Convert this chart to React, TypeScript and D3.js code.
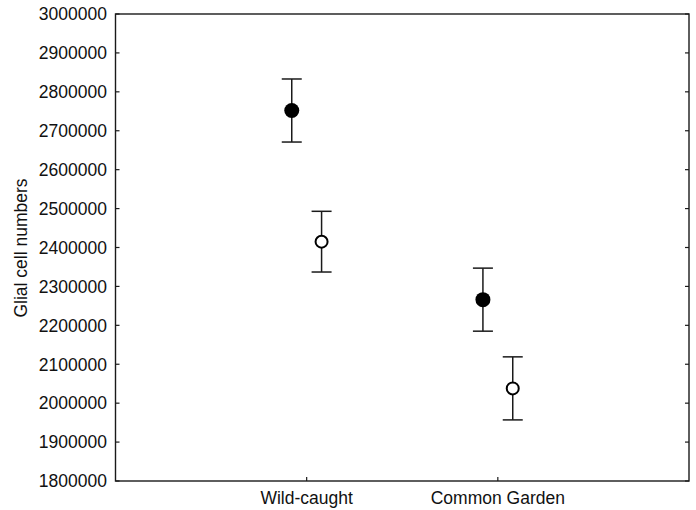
import React from "react";
import * as d3 from "d3";

const categories = ["Wild-caught", "Common Garden"];
const filledMeans = [2752000, 2266000];
const filledErr = [81000, 81000];
const openMeans = [2415000, 2038000];
const openErr = [78000, 81000];
const yTicks = [1800000, 1900000, 2000000, 2100000, 2200000, 2300000, 2400000, 2500000, 2600000, 2700000, 2800000, 2900000, 3000000];

const W = 696, H = 510;
const L = 115.5, R = 689, T = 14, B = 481;
const FONT = "Liberation Sans, Arial, sans-serif";

export default function App() {
  const x = d3.scaleLinear().domain([0, 3]).range([L, R]);
  const y = d3.scaleLinear().domain([1800000, 3000000]).range([B, T]);
  const off = 0.078;
  const cap = 10;
  const col = "#1a1a1a";

  const errBar = (cx: number, m: number, e: number, key: string) => (
    <g key={key} stroke={col} strokeWidth={1.5}>
      <line x1={cx} x2={cx} y1={y(m + e)} y2={y(m - e)} />
      <line x1={cx - cap} x2={cx + cap} y1={y(m + e)} y2={y(m + e)} />
      <line x1={cx - cap} x2={cx + cap} y1={y(m - e)} y2={y(m - e)} />
    </g>
  );

  return (
    <svg width={W} height={H} style={{ position: "absolute", left: 0, top: 0, background: "#fff" }}>
      <rect x={0} y={0} width={W} height={H} fill="#fff" />
      {yTicks.map((t) => (
        <g key={t}>
          <line x1={L} x2={L + 4} y1={y(t)} y2={y(t)} stroke={col} strokeWidth={1.2} />
          <line x1={R} x2={R - 4} y1={y(t)} y2={y(t)} stroke={col} strokeWidth={1.2} />
          <text x={L - 8.5} y={y(t)} dy="0.36em" textAnchor="end" fontFamily={FONT} fontSize={17.5} fill="#111">
            {t}
          </text>
        </g>
      ))}
      {categories.map((c, i) => (
        <g key={c}>
          <line x1={x(i + 1)} x2={x(i + 1)} y1={B} y2={B - 4} stroke={col} strokeWidth={1.2} />
          <text x={x(i + 1)} y={504} textAnchor="middle" fontFamily={FONT} fontSize={17.5} fill="#111">
            {c}
          </text>
        </g>
      ))}
      <rect x={L} y={T} width={R - L} height={B - T} fill="none" stroke={col} strokeWidth={1.4} />
      <text
        transform={`translate(27,248) rotate(-90)`}
        textAnchor="middle"
        fontFamily={FONT}
        fontSize={17.5}
        fill="#111"
      >
        Glial cell numbers
      </text>
      {categories.map((c, i) => {
        const cx = x(i + 1 - off);
        return (
          <g key={"f" + c}>
            {errBar(cx, filledMeans[i], filledErr[i], "fe" + c)}
            <circle cx={cx} cy={y(filledMeans[i])} r={7.5} fill="#000" />
          </g>
        );
      })}
      {categories.map((c, i) => {
        const cx = x(i + 1 + off);
        return (
          <g key={"o" + c}>
            {errBar(cx, openMeans[i], openErr[i], "oe" + c)}
            <circle cx={cx} cy={y(openMeans[i])} r={6} fill="#fff" stroke="#000" strokeWidth={2} />
          </g>
        );
      })}
    </svg>
  );
}
